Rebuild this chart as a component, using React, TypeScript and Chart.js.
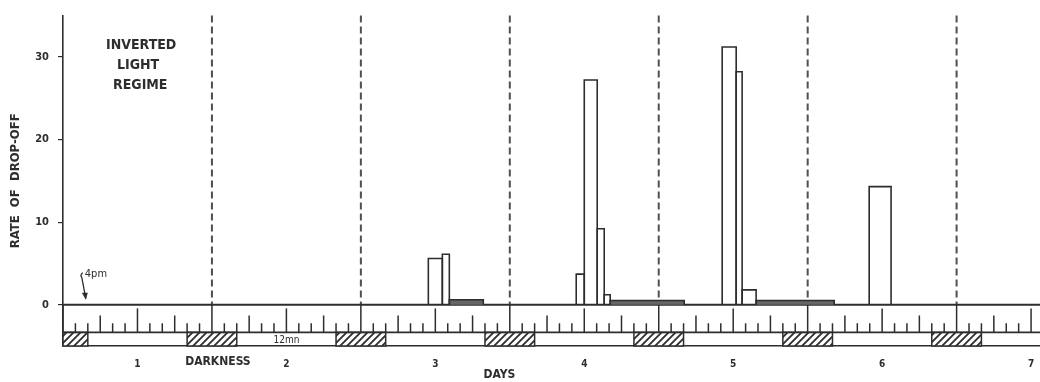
import React, { useEffect, useRef } from "react";
import { Chart, registerables } from "chart.js";

Chart.register(...registerables);

// Day numbers along the time axis (integer = midnight)
const dayTicks = [1, 2, 3, 4, 5, 6, 7];
// Rate axis tick values
const rateTicks = [0, 10, 20, 30];

// Histogram bins, in days
const binStart = [2.953, 3.047, 3.094, 3.946, 4.0, 4.087, 4.134, 4.174, 4.926, 5.02, 5.06, 5.154, 5.913];
const binEnd = [3.047, 3.094, 3.322, 4.0, 4.087, 4.134, 4.174, 4.671, 5.02, 5.06, 5.154, 5.678, 6.06];
const dropOffRate = [5.6, 6.1, 0.6, 3.7, 27.2, 9.2, 1.2, 0.5, 31.2, 28.2, 1.8, 0.5, 14.3];

// Dark period each day (hours), and the days it occurs on
const darkFromHour = 8;
const darkToHour = 16;
const darkDays = [0, 1, 2, 3, 4, 5, 6];
// Noon marker lines
const noonDays = [1, 2, 3, 4, 5, 6];

const INK = "#2d2d2d";
const FONT = '"DejaVu Sans Condensed", "DejaVu Sans", sans-serif';
const STRIP_TOP = -3.35;
const STRIP_BOTTOM = -5;

function hatchPattern(ctx: CanvasRenderingContext2D) {
  const c = document.createElement("canvas");
  c.width = 7;
  c.height = 7;
  const g = c.getContext("2d")!;
  g.fillStyle = "#ffffff";
  g.fillRect(0, 0, 7, 7);
  g.strokeStyle = INK;
  g.lineWidth = 1.8;
  g.beginPath();
  g.moveTo(-1, 8);
  g.lineTo(8, -1);
  g.moveTo(-1, 1);
  g.lineTo(1, -1);
  g.moveTo(6, 8);
  g.lineTo(8, 6);
  g.stroke();
  return ctx.createPattern(c, "repeat");
}

const scenery = {
  id: "scenery",
  beforeDatasetsDraw(chart: any) {
    const { ctx, chartArea } = chart;
    const x = chart.scales.x;
    const y = chart.scales.y;
    const px = (v: number) => x.getPixelForValue(v);
    const py = (v: number) => y.getPixelForValue(v);
    const xMin = x.min;
    const xMax = x.max;
    ctx.save();

    // dashed noon lines
    ctx.strokeStyle = "#505050";
    ctx.lineWidth = 2;
    ctx.setLineDash([7, 4]);
    for (const d of noonDays) {
      const xx = px(d + 0.5);
      ctx.beginPath();
      ctx.moveTo(xx, py(y.max));
      ctx.lineTo(xx, py(0));
      ctx.stroke();
    }
    ctx.setLineDash([]);

    // darkness blocks in the strip
    const pat = hatchPattern(ctx);
    ctx.lineWidth = 1.5;
    ctx.strokeStyle = INK;
    for (const d of darkDays) {
      const a = Math.max(d + darkFromHour / 24, xMin);
      const b = Math.min(d + darkToHour / 24, xMax);
      if (b <= a) continue;
      const x0 = px(a);
      const x1 = px(b);
      const y0 = py(STRIP_TOP);
      const y1 = py(STRIP_BOTTOM);
      if (pat) ctx.fillStyle = pat;
      ctx.fillRect(x0, y0, x1 - x0, y1 - y0);
      ctx.strokeRect(x0, y0, x1 - x0, y1 - y0);
    }

    // two-hourly clock ticks hanging above the strip
    ctx.lineWidth = 1.5;
    for (let k = Math.ceil(xMin * 12); k <= Math.floor(xMax * 12); k++) {
      const hour = (k * 2) % 24;
      let top = -2.25;
      if (hour === 0) top = -0.45;
      else if (hour === 12) top = 0;
      else if (hour === 6 || hour === 18) top = -1.3;
      const xx = px(k / 12);
      ctx.beginPath();
      ctx.moveTo(xx, py(STRIP_TOP));
      ctx.lineTo(xx, py(top));
      ctx.stroke();
    }

    // zero line and strip line
    ctx.lineWidth = 2;
    ctx.beginPath();
    ctx.moveTo(px(xMin), py(0));
    ctx.lineTo(px(xMax), py(0));
    ctx.stroke();
    ctx.lineWidth = 1.6;
    ctx.beginPath();
    ctx.moveTo(px(xMin), py(STRIP_TOP));
    ctx.lineTo(px(xMax), py(STRIP_TOP));
    ctx.stroke();

    // labels
    ctx.fillStyle = INK;
    ctx.textBaseline = "middle";
    ctx.textAlign = "left";
    ctx.font = `bold 14px ${FONT}`;
    ctx.fillText("INVERTED", chartArea.left + 43, chartArea.top + 30);
    ctx.fillText("LIGHT", chartArea.left + 54, chartArea.top + 50);
    ctx.fillText("REGIME", chartArea.left + 50, chartArea.top + 70);

    ctx.font = `11px ${FONT}`;
    ctx.fillText("4pm", px(darkToHour / 24) - 3, py(0) - 31);
    // arrow to 4pm
    const tipX = px(darkToHour / 24) - 2;
    const tipY = py(0) - 6;
    ctx.lineWidth = 1.3;
    ctx.beginPath();
    ctx.moveTo(tipX - 4, tipY - 21);
    ctx.quadraticCurveTo(tipX - 6, tipY - 24, tipX - 3, tipY - 26);
    ctx.moveTo(tipX - 4, tipY - 21);
    ctx.lineTo(tipX, tipY);
    ctx.stroke();
    ctx.beginPath();
    ctx.moveTo(tipX, tipY + 1);
    ctx.lineTo(tipX - 4, tipY - 6);
    ctx.lineTo(tipX + 2, tipY - 6);
    ctx.closePath();
    ctx.fill();

    ctx.textAlign = "center";
    ctx.font = `10px ${FONT}`;
    ctx.fillText("12mn", px(2), py((STRIP_TOP + STRIP_BOTTOM) / 2) + 1);

    ctx.font = `bold 12px ${FONT}`;
    ctx.fillText("DARKNESS", px(1.5) + 6, py(STRIP_BOTTOM) + 16);
    ctx.font = `bold 12px ${FONT}`;
    ctx.fillText("DAYS", px(3.43), py(STRIP_BOTTOM) + 29);

    ctx.restore();
  },
};

const histogramDatasets = binStart.map((x0, i) => ({
  data: [
    { x: x0, y: 0 },
    { x: x0, y: dropOffRate[i] },
    { x: binEnd[i], y: dropOffRate[i] },
    { x: binEnd[i], y: 0 },
  ],
  borderColor: INK,
  borderWidth: 1.6,
  pointRadius: 0,
  tension: 0,
  fill: dropOffRate[i] < 1 ? "origin" : false,
  backgroundColor: "#666666",
}));

export default function App() {
  const canvasRef = useRef<HTMLCanvasElement | null>(null);

  useEffect(() => {
    if (!canvasRef.current) return;
    const chart = new Chart(canvasRef.current, {
      type: "line",
      data: { datasets: histogramDatasets as any },
      options: {
        animation: false,
        responsive: true,
        maintainAspectRatio: false,
        layout: { padding: { top: 12, left: 0, right: 0, bottom: 0 } },
        plugins: {
          legend: { display: false },
          tooltip: { enabled: false },
        },
        scales: {
          x: {
            type: "linear",
            min: 0.5,
            max: 7.06,
            afterBuildTicks: (s: any) => {
              s.ticks = dayTicks.map((v) => ({ value: v }));
            },
            afterFit: (s: any) => {
              s.height = 36;
              s.paddingLeft = 0;
              s.paddingRight = 0;
            },
            grid: { display: true, drawOnChartArea: false, drawTicks: false, color: "rgba(0,0,0,0)" },
            border: { display: true, color: INK, width: 1.6 },
            ticks: {
              padding: 12,
              color: INK,
              font: { family: FONT, size: 10, weight: "bold" },
              callback: (v: any) => String(v),
            },
          },
          y: {
            type: "linear",
            min: STRIP_BOTTOM,
            max: 35,
            afterBuildTicks: (s: any) => {
              s.ticks = rateTicks.map((v) => ({ value: v }));
            },
            afterFit: (s: any) => {
              s.width = 63;
            },
            grid: { display: true, drawOnChartArea: false, drawTicks: true, tickLength: 5, color: INK, lineWidth: 1.2 },
            border: { display: true, color: INK, width: 1.6 },
            ticks: {
              padding: 9,
              color: INK,
              font: { family: FONT, size: 11, weight: "bold" },
              callback: (v: any) => String(v),
            },
            title: {
              display: true,
              text: "RATE  OF  DROP-OFF",
              color: INK,
              font: { family: FONT, size: 13, weight: "bold" },
              padding: { top: 8, bottom: 0 },
            },
          },
        },
      },
      plugins: [scenery],
    });
    return () => chart.destroy();
  }, []);

  return (
    <div style={{ position: "absolute", left: 0, top: 0, width: 1040, height: 382, background: "#ffffff" }}>
      <canvas ref={canvasRef} />
    </div>
  );
}
